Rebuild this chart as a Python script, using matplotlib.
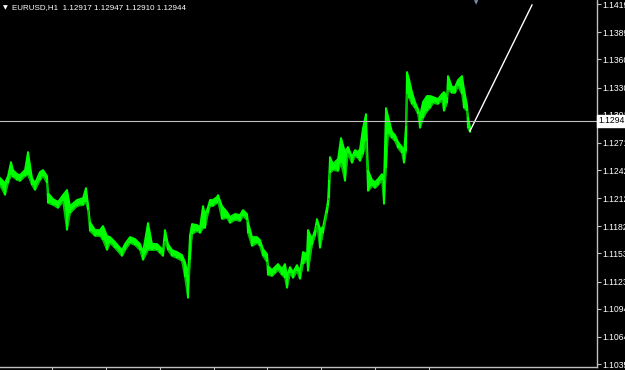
import matplotlib
matplotlib.use("Agg")
import matplotlib.pyplot as plt
import numpy as np

# EURUSD H1 - bar position (hour index), bar highs and lows
bar_t = [0, 5, 8, 11, 13, 17, 20, 25, 28, 32, 35, 40, 43, 47, 48, 53, 58, 63, 67, 70,
         77, 83, 86, 88, 90, 95, 100, 103, 107, 110, 115, 122, 125, 130, 135, 140, 143, 148, 152, 157,
         160, 163, 165, 168, 172, 177, 182, 185, 188, 190, 192, 197, 200, 203, 205, 208, 210, 213, 217, 218,
         222, 227, 230, 235, 240, 243, 247, 248, 252, 257, 260, 263, 267, 268, 272, 275, 278, 282, 285, 287,
         290, 293, 297, 300, 303, 307, 308, 312, 315, 317, 320, 323, 327, 328, 329, 330, 333, 338, 341, 345,
         348, 352, 355, 358, 360, 363, 366, 368, 372, 375, 378, 382, 384, 386, 388, 392, 395, 398, 402, 404,
         406, 407, 409, 412, 415, 418, 420, 423, 427, 430, 433, 438, 442, 444, 447, 448, 452, 455, 458, 462,
         464, 467, 468, 470]
bar_high = [1.12335, 1.12281, 1.12356, 1.12505, 1.12420, 1.12377, 1.12367, 1.12420, 1.12612, 1.12335,
            1.12281, 1.12399, 1.12420, 1.12356, 1.12175, 1.12111, 1.12079, 1.12153, 1.12207, 1.12036,
            1.12100, 1.12121, 1.12228, 1.12057, 1.11865, 1.11780, 1.11780, 1.11823, 1.11716, 1.11705,
            1.11652, 1.11566, 1.11631, 1.11705, 1.11684, 1.11631, 1.11545, 1.11855, 1.11631, 1.11631,
            1.11599, 1.11566, 1.11780, 1.11631, 1.11566, 1.11545, 1.11513, 1.11438, 1.11300, 1.11727,
            1.11844, 1.11833, 1.11812, 1.12036, 1.11940, 1.12025, 1.12100, 1.12100, 1.12132, 1.12153,
            1.12036, 1.11972, 1.11919, 1.11951, 1.11940, 1.11993, 1.11951, 1.11865, 1.11705, 1.11705,
            1.11673, 1.11577, 1.11524, 1.11396, 1.11353, 1.11385, 1.11417, 1.11364, 1.11417, 1.11289,
            1.11385, 1.11332, 1.11406, 1.11332, 1.11545, 1.11524, 1.11780, 1.11684, 1.11780, 1.11897,
            1.11791, 1.11812, 1.12025, 1.12100, 1.12313, 1.12559, 1.12484, 1.12537, 1.12762, 1.12612,
            1.12666, 1.12559, 1.12633, 1.12612, 1.12644, 1.12868, 1.13018, 1.12420, 1.12313, 1.12292,
            1.12324, 1.12377, 1.12313, 1.13082, 1.12996, 1.12826, 1.12794, 1.12719, 1.12666, 1.12612,
            1.12890, 1.13466, 1.13391, 1.13252, 1.13146, 1.13071, 1.12996, 1.13146, 1.13210, 1.13210,
            1.13199, 1.13178, 1.13231, 1.13252, 1.13199, 1.13423, 1.13306, 1.13306, 1.13380, 1.13423,
            1.13284, 1.13114, 1.12986, 1.12879]
bar_low = [1.12260, 1.12153, 1.12281, 1.12367, 1.12345, 1.12313, 1.12303, 1.12356, 1.12367, 1.12260,
           1.12207, 1.12313, 1.12356, 1.12281, 1.12068, 1.12047, 1.12015, 1.12089, 1.11780, 1.11961,
           1.12036, 1.12047, 1.12079, 1.11993, 1.11769, 1.11716, 1.11716, 1.11673, 1.11566, 1.11641,
           1.11588, 1.11502, 1.11566, 1.11641, 1.11620, 1.11566, 1.11460, 1.11566, 1.11566, 1.11566,
           1.11534, 1.11502, 1.11663, 1.11566, 1.11502, 1.11481, 1.11449, 1.11278, 1.11054, 1.11460,
           1.11737, 1.11769, 1.11748, 1.11801, 1.11801, 1.11961, 1.12036, 1.12036, 1.12068, 1.12089,
           1.11897, 1.11908, 1.11855, 1.11887, 1.11876, 1.11929, 1.11887, 1.11748, 1.11609, 1.11641,
           1.11609, 1.11502, 1.11438, 1.11300, 1.11289, 1.11321, 1.11353, 1.11300, 1.11268, 1.11161,
           1.11321, 1.11268, 1.11342, 1.11257, 1.11417, 1.11460, 1.11342, 1.11620, 1.11716, 1.11833,
           1.11588, 1.11748, 1.11961, 1.12036, 1.12121, 1.12388, 1.12420, 1.12409, 1.12495, 1.12303,
           1.12601, 1.12495, 1.12569, 1.12548, 1.12516, 1.12591, 1.12730, 1.12196, 1.12249, 1.12228,
           1.12260, 1.12313, 1.12057, 1.12441, 1.12804, 1.12762, 1.12730, 1.12655, 1.12601, 1.12495,
           1.12623, 1.13231, 1.13188, 1.13124, 1.13082, 1.13018, 1.12868, 1.12975, 1.13050, 1.13082,
           1.13135, 1.13124, 1.13167, 1.13050, 1.13135, 1.13274, 1.13242, 1.13242, 1.13316, 1.13231,
           1.13082, 1.13050, 1.12868, 1.12826]

# white trend line (two anchor points)
trend_t = [470, 532]
trend_p = [1.12836, 1.14181]

bid = 1.12944
header = "EURUSD,H1  1.12917 1.12947 1.12910 1.12944"
ytick_labels = ["1.1035", "1.1064", "1.1094", "1.1123", "1.1153", "1.1182", "1.1212",
                "1.1242", "1.1271", "1.1301", "1.1330", "1.1360", "1.1389", "1.1419"]
xtick_pos = [52, 106, 160, 214, 267, 321, 375, 429]

fnt = "Liberation Sans"

fig = plt.figure(figsize=(6.25, 3.7), dpi=100, facecolor="black")
ax = fig.add_axes([0, 3 / 370, 597 / 625, 367 / 370], facecolor="black")

t = np.array(bar_t)
hi = np.array(bar_high)
lo = np.array(bar_low)
ax.fill_between(t, lo, hi, color="#00ff00", lw=0)
ax.plot(t, hi, color="#00ff00", lw=1.3)
ax.plot(t, lo, color="#00c000", lw=1.3)
ax.vlines(t, lo, hi, color="#00ff00", lw=1.5)

ax.plot(trend_t, trend_p, color="white", lw=1)
ax.axhline(bid, color="#c0c0c0", lw=0.8)

ax.set_xlim(0, 597)
ax.set_ylim(1.10318, 1.14234)

gray = "#c0c0c0"
for s in ["left", "top"]:
    ax.spines[s].set_visible(False)
for s in ["right", "bottom"]:
    ax.spines[s].set_color(gray)
    ax.spines[s].set_linewidth(1)

ax.yaxis.tick_right()
ax.set_yticks([float(v) for v in ytick_labels])
ax.set_yticklabels(ytick_labels, fontfamily=fnt)
ax.tick_params(axis="y", colors=gray, labelcolor="white", length=3, width=0.8,
               direction="out", pad=1, labelsize=6.2)
ax.set_xticks(xtick_pos)
ax.set_xticklabels([])
ax.tick_params(axis="x", colors=gray, length=3, width=0.8, direction="out")

# bid price label on the right axis
ax.text(1.003, bid, "1.1294", transform=ax.get_yaxis_transform(), fontsize=6.2,
        family=fnt, color="black", va="center", ha="left",
        bbox=dict(boxstyle="square,pad=0.2", fc="white", ec="white"), clip_on=False)

fig.text(0.004, 0.985, "\u25bc", color="white", fontsize=4.5, va="top", ha="left")
fig.text(0.02, 0.99, header, color="white", fontsize=5.8, family=fnt, va="top", ha="left")
fig.text(476 / 625, 1.0, "\u25bc", color="#8090b0", fontsize=4, va="top", ha="center")

fig.savefig("out.png", dpi=100, facecolor="black")
